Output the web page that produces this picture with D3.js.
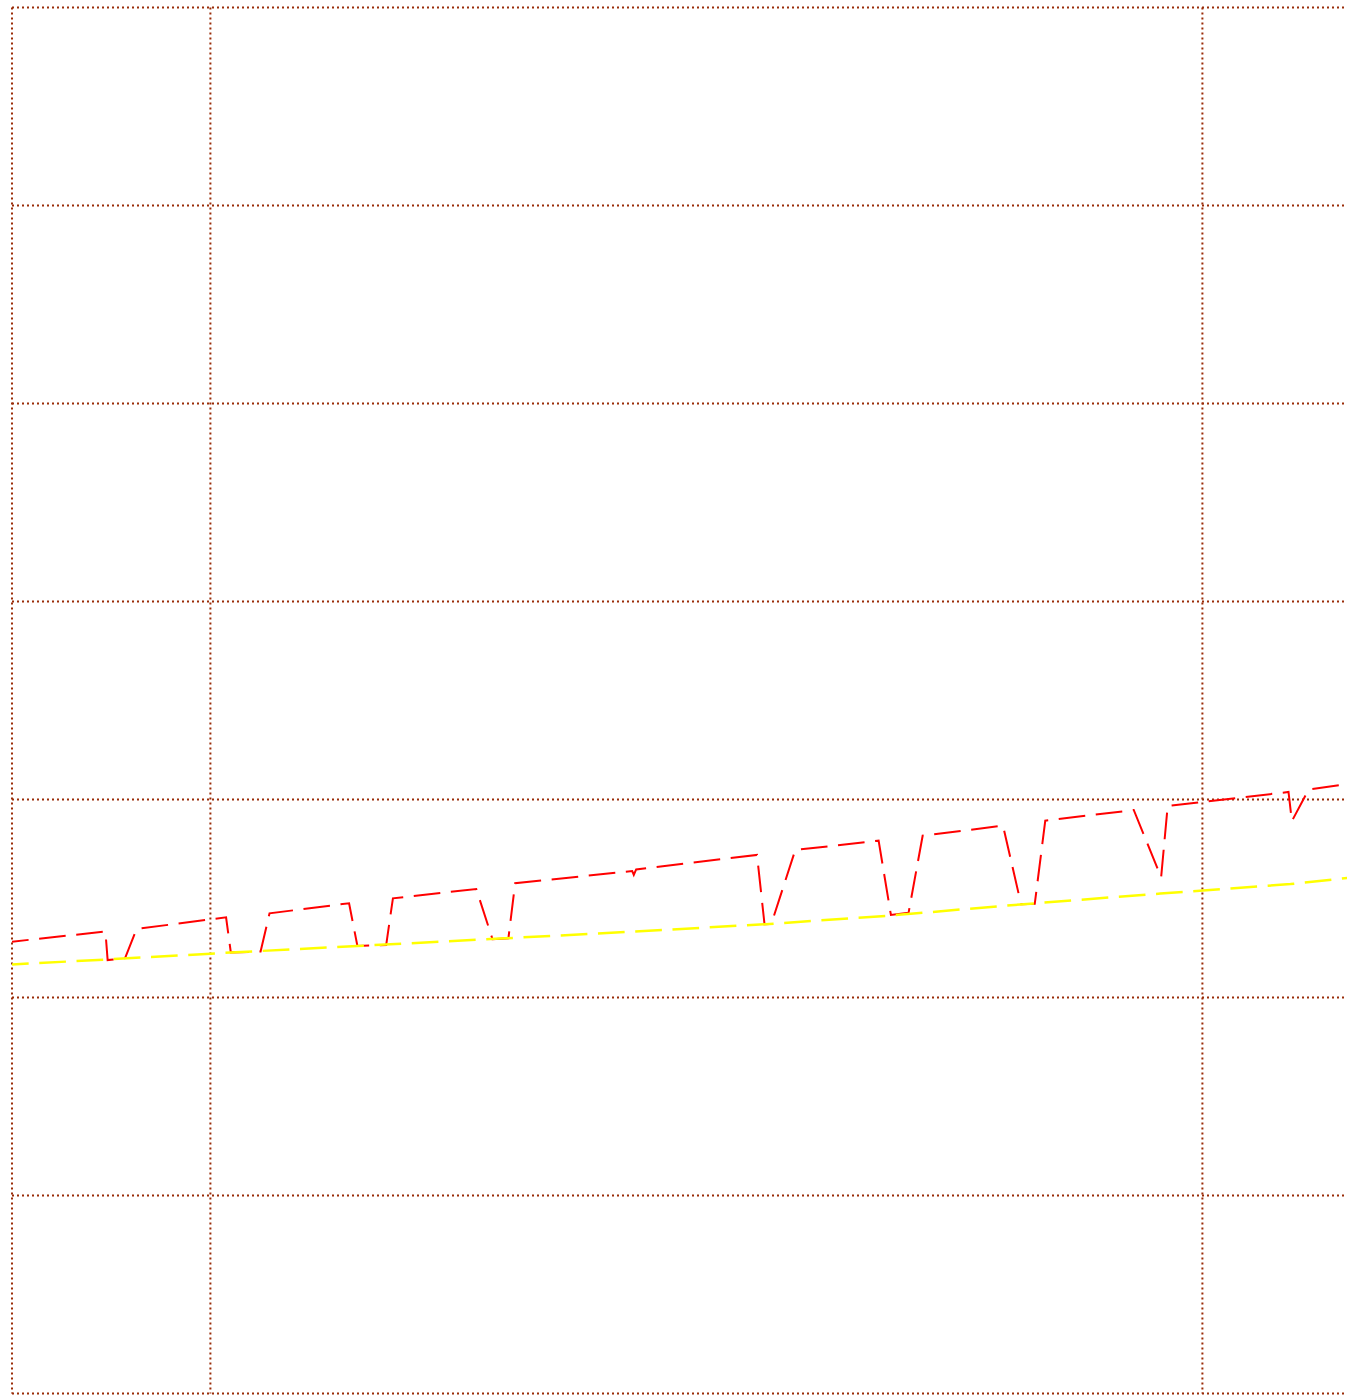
<!DOCTYPE html>
<html>
<head>
<meta charset="utf-8">
<script src="https://cdn.jsdelivr.net/npm/d3@7"></script>
<style>
  body { margin: 0; background: white; overflow: hidden; }
  svg { display: block; }
</style>
</head>
<body>
<div id="svg-container"></div>
<script>
// gridline positions (data units)
const xGridValues = [0, 1, 6]
const yGridValues = [0, 1, 2, 3, 4, 5, 6, 7]

// red series: x, y vertices
const redX = [0, 0.471, 0.482, 0.570, 0.628, 1.079, 1.103, 1.253, 1.298, 1.699, 1.741, 1.886, 1.920,
  2.340, 2.422, 2.502, 2.536, 3.126, 3.134, 3.146, 3.755, 3.793, 3.827, 3.948, 4.368, 4.430, 4.519,
  4.590, 4.995, 5.086, 5.155, 5.208, 5.654, 5.792, 5.825, 6.434, 6.451, 6.536, 6.731]
const redY = [2.282, 2.333, 2.189, 2.199, 2.346, 2.405, 2.228, 2.232, 2.425, 2.476, 2.260, 2.265, 2.501,
  2.548, 2.294, 2.299, 2.577, 2.639, 2.619, 2.647, 2.720, 2.370, 2.371, 2.745, 2.792, 2.417, 2.428,
  2.817, 2.868, 2.471, 2.473, 2.893, 2.947, 2.607, 2.967, 3.038, 2.891, 3.051, 3.078]

// yellow series
const yellowX = [0, 0.479, 1.099, 1.740, 2.410, 3.131, 3.797, 4.427, 5.082, 5.788, 6.444, 6.731]
const yellowY = [2.167, 2.192, 2.227, 2.260, 2.295, 2.333, 2.370, 2.414, 2.470, 2.525, 2.573, 2.604]

const width = 1347
const height = 1399

const svg = d3.select("#svg-container")
  .append("svg")
    .attr("width", width)
    .attr("height", height)

const xScale = d3.scaleLinear()
  .domain([0, 7])
  .range([12, 12 + 7 * 198.4])

const yScale = d3.scaleLinear()
  .domain([0, 7])
  .range([1393.5, 7.5])

svg.append("clipPath")
    .attr("id", "plot-clip")
  .append("rect")
    .attr("x", xScale(0))
    .attr("y", yScale(7))
    .attr("width", width - xScale(0) + 10)
    .attr("height", yScale(0) - yScale(7))

const gridColor = "#9a2c08"

svg.append("g")
  .selectAll("line")
  .data(yGridValues)
  .join("line")
    .attr("x1", xScale(0))
    .attr("x2", width + 10)
    .attr("y1", d => yScale(d))
    .attr("y2", d => yScale(d))
    .attr("stroke", gridColor)
    .attr("stroke-width", 2)
    .attr("stroke-dasharray", "2,3")

svg.append("g")
  .selectAll("line")
  .data(xGridValues)
  .join("line")
    .attr("x1", d => xScale(d))
    .attr("x2", d => xScale(d))
    .attr("y1", yScale(7))
    .attr("y2", yScale(0))
    .attr("stroke", gridColor)
    .attr("stroke-width", 2)
    .attr("stroke-dasharray", "2,3")

const line = d3.line()
  .x(d => xScale(d[0]))
  .y(d => yScale(d[1]))

const plot = svg.append("g")
  .attr("clip-path", "url(#plot-clip)")

plot.append("path")
    .datum(d3.zip(redX, redY))
    .attr("d", line)
    .attr("fill", "none")
    .attr("stroke", "#ff0000")
    .attr("stroke-width", 2)
    .attr("stroke-dasharray", "26.7,10.6")
    .attr("stroke-dashoffset", 10)

plot.append("path")
    .datum(d3.zip(yellowX, yellowY))
    .attr("d", line)
    .attr("fill", "none")
    .attr("stroke", "#ffff00")
    .attr("stroke-width", 2.5)
    .attr("stroke-dasharray", "26.7,10.6")
    .attr("stroke-dashoffset", 10)
</script>
</body>
</html>
